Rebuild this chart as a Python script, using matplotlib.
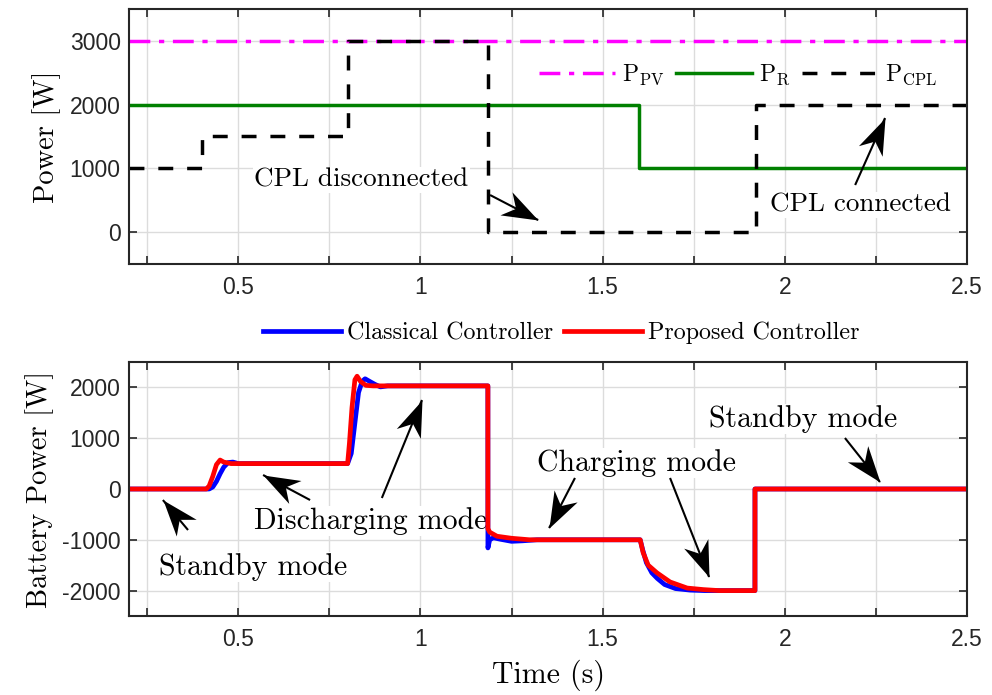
import numpy as np
import matplotlib
matplotlib.use("Agg")
import matplotlib.pyplot as plt
from matplotlib.ticker import MultipleLocator, FuncFormatter
from matplotlib.path import Path
from matplotlib.markers import MarkerStyle
from matplotlib.transforms import Affine2D

plt.rcParams['font.family'] = ['Liberation Sans', 'DejaVu Sans']
plt.rcParams['mathtext.fontset'] = 'cm'
plt.rcParams['axes.unicode_minus'] = False

SERIF = 'cmr10'

# ---- Power references (step signals) ----
pv_t = [0.2, 2.5]
pv_p = [3000, 3000]
r_t = [0.2, 1.6, 2.5]
r_p = [2000, 1000, 1000]
cpl_t = [0.2, 0.4, 0.8, 1.185, 1.92, 2.5]
cpl_p = [1000, 1500, 3000, 0, 2000, 2000]

# ---- Battery power, classical controller ----
classical_t = [0.2, 0.42, 0.43, 0.44, 0.45, 0.46, 0.472, 0.485, 0.50,
               0.80, 0.81, 0.82, 0.83, 0.84, 0.848, 0.86, 0.875, 0.89, 0.91,
               1.185, 1.1851, 1.19, 1.20, 1.22, 1.25, 1.28, 1.32,
               1.603, 1.61, 1.62, 1.635, 1.65, 1.67, 1.70, 1.74, 1.78, 1.82,
               1.918, 1.9181, 2.5]
classical_p = [0, 0, 40, 150, 300, 430, 520, 530, 500,
               500, 700, 1300, 1900, 2120, 2170, 2120, 2060, 2010, 2030,
               2030, -1160, -1000, -960, -990, -1030, -1020, -1000,
               -1000, -1200, -1450, -1650, -1760, -1880, -1960, -1990, -2000, -2000,
               -2000, 0, 0]

# ---- Battery power, proposed controller ----
proposed_t = [0.2, 0.412, 0.42, 0.43, 0.44, 0.45, 0.46, 0.48,
              0.80, 0.805, 0.812, 0.82, 0.826, 0.835, 0.85, 0.87,
              1.185, 1.1851, 1.19, 1.21, 1.25, 1.30,
              1.603, 1.611, 1.625, 1.649, 1.685, 1.732, 1.776, 1.82,
              1.918, 1.9181, 2.5]
proposed_p = [0, 0, 60, 250, 480, 570, 530, 500,
              500, 900, 1600, 2150, 2220, 2120, 2040, 2030,
              2030, -780, -850, -930, -970, -1000,
              -1000, -1250, -1500, -1650, -1830, -1950, -1980, -2000,
              -2000, 0, 0]

W, H = 992, 695
fig = plt.figure(figsize=(W / 100, H / 100), dpi=100)


def px_axes(left, top, right, bottom):
    return fig.add_axes([left / W, 1 - bottom / H, (right - left) / W, (bottom - top) / H])


ax1 = px_axes(129, 9, 967, 264)
ax2 = px_axes(129, 362, 967, 616)

fmt = FuncFormatter(lambda v, p: '%g' % v)
for ax in (ax1, ax2):
    ax.set_xlim(0.2, 2.5)
    ax.xaxis.set_major_locator(MultipleLocator(0.5))
    ax.xaxis.set_minor_locator(MultipleLocator(0.25))
    ax.xaxis.set_major_formatter(fmt)
    ax.yaxis.set_major_formatter(fmt)
    ax.grid(True, which='major', color='#dcdcdc', lw=1.0)
    ax.grid(True, which='minor', axis='x', color='#dcdcdc', lw=1.0)
    ax.set_axisbelow(True)
    ax.tick_params(which='both', direction='in', top=True, right=True,
                   length=6, width=1.2, labelsize=16.5, colors='#262626')
    ax.tick_params(axis='x', pad=9)
    ax.tick_params(axis='y', pad=6)
    for s in ax.spines.values():
        s.set_color('#262626')
        s.set_linewidth(1.5)

ax1.set_ylim(-500, 3500)
ax1.yaxis.set_major_locator(MultipleLocator(1000))
ax2.set_ylim(-2500, 2500)
ax2.yaxis.set_major_locator(MultipleLocator(1000))

# Concave ("stealth") arrow head, tip at the origin pointing along +x
HEAD = Path([(0, 0), (-1, 0.36), (-0.7, 0), (-1, -0.36), (0, 0)],
            [Path.MOVETO, Path.LINETO, Path.LINETO, Path.LINETO, Path.CLOSEPOLY])


def arrow(ax, tail, head, size=52):
    """Thin shaft from tail to head with a filled stealth head, in data coords."""
    ax.plot([tail[0], head[0]], [tail[1], head[1]], color='black', lw=1.5,
            solid_capstyle='butt', zorder=4)
    p0 = ax.transData.transform(tail)
    p1 = ax.transData.transform(head)
    ang = np.arctan2(p1[1] - p0[1], p1[0] - p0[0])
    m = MarkerStyle(HEAD, transform=Affine2D().rotate(ang))
    ax.plot([head[0]], [head[1]], marker=m, markersize=size, color='black',
            markeredgewidth=0, linestyle='none', zorder=5)


def label(ax, x, y, s, fs):
    ax.text(x, y, s, fontfamily=SERIF, fontsize=fs, ha='center', va='center',
            zorder=1.5, bbox=dict(facecolor='white', edgecolor='none', pad=1))


# ---- Top: power references ----
l_pv, = ax1.plot(pv_t, pv_p, color='#ff00ff', lw=2.5, ls=(0, (6, 2.5, 1.5, 2.5)),
                 drawstyle='steps-post', label=r'$\mathrm{P_{PV}}$')
l_r, = ax1.plot(r_t, r_p, color='#008000', lw=2.5, drawstyle='steps-post',
                label=r'$\mathrm{P_{R}}$')
l_cpl, = ax1.plot(cpl_t, cpl_p, color='black', lw=2.5, ls=(0, (4.3, 4)),
                  drawstyle='steps-post', label=r'$\mathrm{P_{CPL}}$')
ax1.set_ylabel('Power [W]', fontfamily=SERIF, fontsize=20.5, labelpad=6)
fig.legend(handles=[l_pv, l_r, l_cpl], loc='center', bbox_to_anchor=(738 / W, 1 - 75 / H),
           ncol=3, frameon=False, fontsize=17, handlelength=3.2, columnspacing=0.5,
           handletextpad=0.3)

TOP_FS = 19.5
BOT_FS = 21.5

label(ax1, 0.837, 818, 'CPL disconnected', TOP_FS)
arrow(ax1, (1.191, 582), (1.323, 190))
label(ax1, 2.209, 425, 'CPL connected', TOP_FS)
arrow(ax1, (2.193, 739), (2.275, 1790))

# ---- Bottom: battery power ----
l_c, = ax2.plot(classical_t, classical_p, color='#0000ff', lw=3.4, label='Classical Controller')
l_p, = ax2.plot(proposed_t, proposed_p, color='#ff0000', lw=3.4, label='Proposed Controller')
ax2.set_ylabel('Battery Power [W]', fontfamily=SERIF, fontsize=20.5, labelpad=6)
ax2.set_xlabel('Time (s)', fontfamily=SERIF, fontsize=21.5, labelpad=6)
fig.legend(handles=[l_c, l_p], loc='center', bbox_to_anchor=(561 / W, 1 - 333 / H),
           ncol=2, frameon=False, prop={'family': SERIF, 'size': 17.3},
           handlelength=3.25, columnspacing=0.45, handletextpad=0.25)

label(ax2, 0.540, -1535, 'Standby mode', BOT_FS)
arrow(ax2, (0.362, -807), (0.293, -217))

label(ax2, 0.864, -630, 'Discharging mode', BOT_FS)
arrow(ax2, (0.697, -217), (0.568, 276))
arrow(ax2, (0.894, -177), (1.004, 1752))

label(ax2, 1.594, 512, 'Charging mode', BOT_FS)
arrow(ax2, (1.424, 217), (1.353, -768))
arrow(ax2, (1.685, 217), (1.792, -1732))

label(ax2, 2.050, 1378, 'Standby mode', BOT_FS)
arrow(ax2, (2.165, 1004), (2.261, 138))

fig.savefig('out.png', dpi=100)
